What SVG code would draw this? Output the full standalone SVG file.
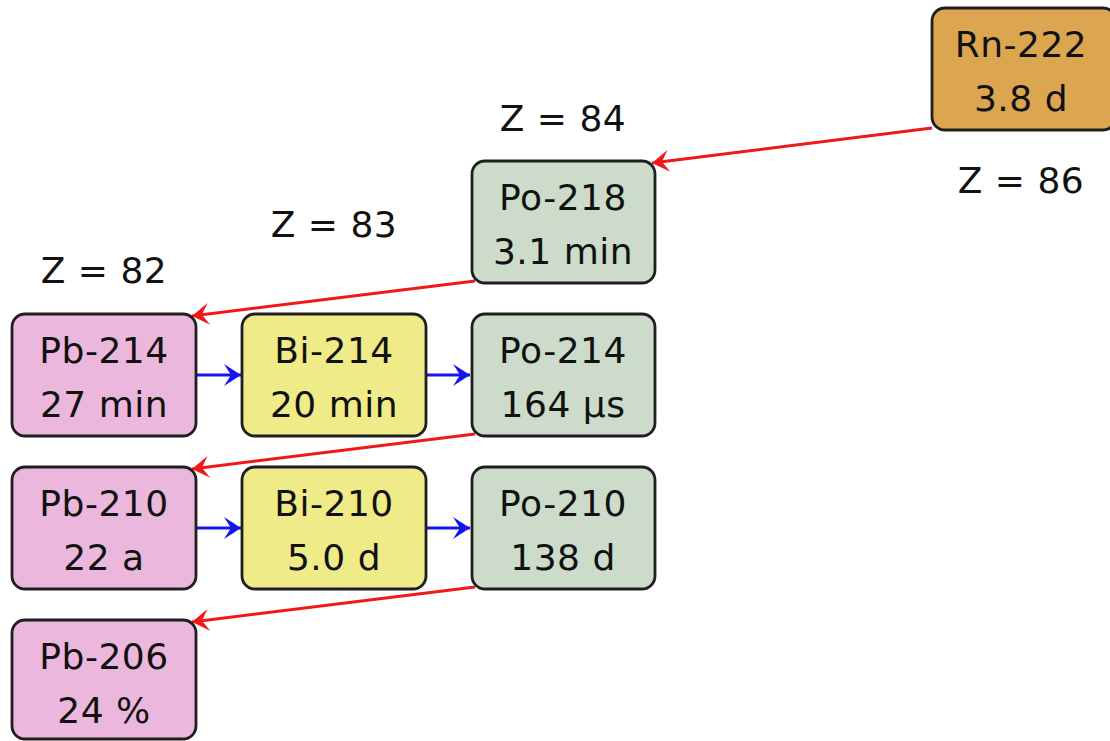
<svg xmlns="http://www.w3.org/2000/svg" width="1110" height="741" viewBox="0 0 1110 741">
<style>
.box{stroke:#1f1f1f;stroke-width:2.8}
.pb{fill:#ecb7dc}
.bi{fill:#eeeb88}
.po{fill:#ccdbca}
.rn{fill:#dca651}
text{font-family:"DejaVu Sans",sans-serif;font-size:36px;fill:#111;text-anchor:middle;letter-spacing:0.5px}
.red{stroke:#f01818;stroke-width:3;fill:none;marker-end:url(#ar)}
.blue{stroke:#1414f0;stroke-width:3;fill:none;marker-end:url(#ab)}
</style>
<defs>
<marker id="ar" markerUnits="userSpaceOnUse" markerWidth="30" markerHeight="30" refX="0" refY="0" viewBox="-22 -15 30 30" orient="auto">
<path d="M0,0 L-17,-11 L-10,0 L-17,11 Z" fill="#f01818"/>
</marker>
<marker id="ab" markerUnits="userSpaceOnUse" markerWidth="30" markerHeight="30" refX="0" refY="0" viewBox="-22 -15 30 30" orient="auto">
<path d="M0,0 L-17,-11 L-10,0 L-17,11 Z" fill="#1414f0"/>
</marker>
</defs>
<g id="connectors">
<line class="red" x1="932" y1="128" x2="652" y2="163"/>
<line class="red" x1="475" y1="281" x2="192" y2="316"/>
<line class="red" x1="475" y1="434" x2="192" y2="469"/>
<line class="red" x1="475" y1="587" x2="192" y2="622"/>
<line class="blue" x1="197" y1="375" x2="241" y2="375"/>
<line class="blue" x1="427" y1="375" x2="470" y2="375"/>
<line class="blue" x1="197" y1="528" x2="241" y2="528"/>
<line class="blue" x1="427" y1="528" x2="470" y2="528"/>
</g>
<g id="labels">
<text x="1021" y="193">Z = 86</text>
<text x="563" y="131">Z = 84</text>
<text x="334" y="237">Z = 83</text>
<text x="104" y="283">Z = 82</text>
</g>
<g id="rn222"><rect class="box rn" x="932" y="8" width="184" height="122" rx="13"/><text x="1021" y="57">Rn-222</text><text x="1021" y="111">3.8 d</text></g>
<g id="po218"><rect class="box po" x="472" y="161" width="183" height="122" rx="13"/><text x="563" y="210">Po-218</text><text x="563" y="264">3.1 min</text></g>
<g id="pb214"><rect class="box pb" x="12" y="314" width="184" height="122" rx="13"/><text x="104" y="363">Pb-214</text><text x="104" y="417">27 min</text></g>
<g id="bi214"><rect class="box bi" x="242" y="314" width="184" height="122" rx="13"/><text x="334" y="363">Bi-214</text><text x="334" y="417">20 min</text></g>
<g id="po214"><rect class="box po" x="472" y="314" width="183" height="122" rx="13"/><text x="563" y="363">Po-214</text><text x="563" y="417">164 µs</text></g>
<g id="pb210"><rect class="box pb" x="12" y="467" width="184" height="122" rx="13"/><text x="104" y="516">Pb-210</text><text x="104" y="570">22 a</text></g>
<g id="bi210"><rect class="box bi" x="242" y="467" width="184" height="122" rx="13"/><text x="334" y="516">Bi-210</text><text x="334" y="570">5.0 d</text></g>
<g id="po210"><rect class="box po" x="472" y="467" width="183" height="122" rx="13"/><text x="563" y="516">Po-210</text><text x="563" y="570">138 d</text></g>
<g id="pb206"><rect class="box pb" x="12" y="620" width="184" height="119" rx="13"/><text x="104" y="669">Pb-206</text><text x="104" y="723">24 %</text></g>
</svg>
